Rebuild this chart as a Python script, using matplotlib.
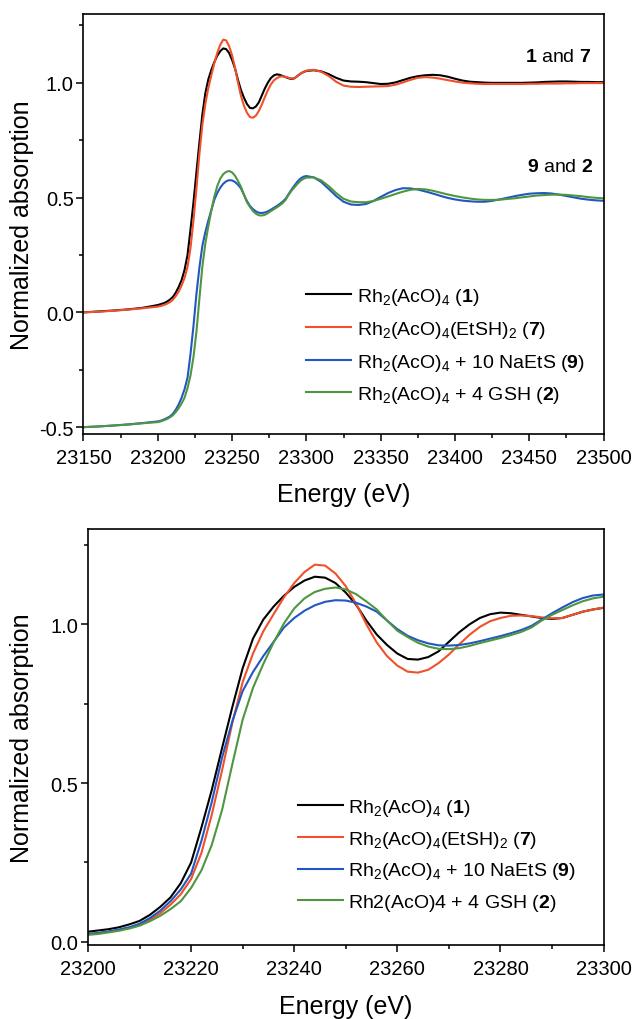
import numpy as np
import matplotlib
matplotlib.use("Agg")
import matplotlib.pyplot as plt
from matplotlib.ticker import MultipleLocator

plt.rcParams['font.family'] = ['Liberation Sans', 'DejaVu Sans']
plt.rcParams['mathtext.fontset'] = 'custom'
plt.rcParams['mathtext.rm'] = 'Liberation Sans'
plt.rcParams['mathtext.it'] = 'Liberation Sans:italic'
plt.rcParams['mathtext.bf'] = 'Liberation Sans:bold'
plt.rcParams['axes.unicode_minus'] = False

# ---------------- data ----------------
energy = np.concatenate([
    [23150, 23160, 23170, 23180, 23190],
    np.arange(23200, 23301, 2),
    np.arange(23305, 23501, 5),
]).astype(float)

mu_1 = [0.000, 0.004, 0.008, 0.013, 0.020,
        0.032, 0.036, 0.040, 0.046, 0.055, 0.066, 0.085, 0.110, 0.140, 0.185,
        0.250, 0.360, 0.478, 0.610, 0.740, 0.862, 0.955, 1.015, 1.056, 1.090,
        1.118, 1.138, 1.150, 1.147, 1.130, 1.100, 1.062, 1.012, 0.968, 0.935,
        0.908, 0.891, 0.889, 0.897, 0.915, 0.945, 0.975, 1.000, 1.020, 1.032,
        1.037, 1.035, 1.030, 1.025, 1.020, 1.017, 1.020, 1.030, 1.040, 1.047,
        1.052,
        1.055, 1.050, 1.038, 1.022, 1.010, 1.006, 1.005, 1.003, 0.999, 0.995,
        0.996, 1.002, 1.012, 1.022, 1.029, 1.033, 1.035, 1.033, 1.027, 1.018,
        1.010, 1.005, 1.003, 1.001, 1.000, 1.000, 1.000, 1.000, 1.000, 1.001,
        1.002, 1.004, 1.005, 1.006, 1.006, 1.005, 1.004, 1.004, 1.003, 1.003]

mu_7 = [0.000, 0.003, 0.007, 0.012, 0.018,
        0.025, 0.028, 0.032, 0.037, 0.044, 0.054, 0.070, 0.090, 0.117, 0.150,
        0.198, 0.280, 0.400, 0.540, 0.690, 0.818, 0.908, 0.978, 1.032, 1.085,
        1.130, 1.165, 1.188, 1.185, 1.160, 1.120, 1.065, 1.000, 0.943, 0.900,
        0.870, 0.851, 0.848, 0.857, 0.878, 0.905, 0.937, 0.967, 0.992, 1.010,
        1.020, 1.027, 1.028, 1.026, 1.022, 1.019, 1.020, 1.030, 1.040, 1.047,
        1.053,
        1.057, 1.048, 1.030, 1.005, 0.988, 0.983, 0.982, 0.983, 0.984, 0.985,
        0.986, 0.992, 1.002, 1.013, 1.022, 1.025, 1.023, 1.018, 1.012, 1.006,
        1.001, 0.998, 0.996, 0.995, 0.995, 0.995, 0.995, 0.995, 0.995, 0.996,
        0.996, 0.997, 0.997, 0.997, 0.998, 0.998, 0.999, 0.999, 0.999, 0.999]

mu_9 = [0.000, 0.003, 0.007, 0.012, 0.018,
        0.025, 0.028, 0.033, 0.039, 0.046, 0.057, 0.075, 0.098, 0.128, 0.165,
        0.215, 0.318, 0.440, 0.580, 0.695, 0.790, 0.850, 0.900, 0.945, 0.990,
        1.020, 1.043, 1.060, 1.071, 1.076, 1.075, 1.068, 1.056, 1.040, 1.012,
        0.985, 0.964, 0.950, 0.940, 0.934, 0.933, 0.935, 0.940, 0.947, 0.955,
        0.963, 0.972, 0.982, 0.995, 1.015, 1.035, 1.053, 1.070, 1.083, 1.091,
        1.094,
        1.088, 1.068, 1.038, 1.007, 0.982, 0.970, 0.968, 0.972, 0.985, 1.003,
        1.020, 1.033, 1.041, 1.040, 1.035, 1.027, 1.018, 1.008, 0.999, 0.992,
        0.987, 0.984, 0.982, 0.982, 0.986, 0.992, 0.999, 1.006, 1.012, 1.017,
        1.019, 1.020, 1.018, 1.013, 1.007, 1.001, 0.995, 0.991, 0.988, 0.986]

mu_2 = [0.000, 0.003, 0.007, 0.011, 0.017,
        0.022, 0.025, 0.030, 0.035, 0.042, 0.051, 0.065, 0.082, 0.103, 0.128,
        0.170, 0.225, 0.305, 0.415, 0.560, 0.700, 0.800, 0.875, 0.943, 1.003,
        1.050, 1.082, 1.102, 1.112, 1.116, 1.110, 1.095, 1.072, 1.047, 1.012,
        0.980, 0.960, 0.942, 0.930, 0.923, 0.922, 0.925, 0.932, 0.941, 0.949,
        0.957, 0.966, 0.976, 0.990, 1.012, 1.030, 1.045, 1.060, 1.073, 1.082,
        1.087,
        1.088, 1.075, 1.050, 1.020, 0.995, 0.983, 0.980, 0.980, 0.985, 0.995,
        1.005, 1.016, 1.026, 1.034, 1.038, 1.036, 1.030, 1.022, 1.014, 1.007,
        1.001, 0.996, 0.992, 0.990, 0.990, 0.991, 0.994, 0.997, 1.001, 1.005,
        1.009, 1.011, 1.013, 1.013, 1.012, 1.009, 1.006, 1.002, 0.999, 0.997]

offset_92 = -0.5

labels_top = [r'Rh$_2$(AcO)$_4$ ($\mathbf{1}$)',
              r'Rh$_2$(AcO)$_4$(EtSH)$_2$ ($\mathbf{7}$)',
              r'Rh$_2$(AcO)$_4$ + 10 NaEtS ($\mathbf{9}$)',
              r'Rh$_2$(AcO)$_4$ + 4 GSH ($\mathbf{2}$)']
labels_bottom = [r'Rh$_2$(AcO)$_4$ ($\mathbf{1}$)',
                 r'Rh$_2$(AcO)$_4$(EtSH)$_2$ ($\mathbf{7}$)',
                 r'Rh$_2$(AcO)$_4$ + 10 NaEtS ($\mathbf{9}$)',
                 r'Rh2(AcO)4 + 4 GSH ($\mathbf{2}$)']

colors = ['#000000', '#F0502A', '#2257C2', '#4E963F']

for arr in (mu_1, mu_7, mu_9, mu_2):
    assert len(arr) == len(energy)

mu_1 = np.array(mu_1); mu_7 = np.array(mu_7)
mu_9 = np.array(mu_9); mu_2 = np.array(mu_2)

# ---------------- figure ----------------
fig = plt.figure(figsize=(6.34, 10.2), dpi=100)
ax1 = fig.add_axes([0.1317, 0.5735, 0.8203, 0.4118])
ax2 = fig.add_axes([0.1388, 0.0725, 0.8132, 0.4078])

lw = 1.5
FS_TICK = 14.5
FS_LEG = 14
FS_LAB = 18


def style(ax, xmaj, xmin, ymaj, ymin):
    ax.xaxis.set_major_locator(MultipleLocator(xmaj))
    ax.xaxis.set_minor_locator(MultipleLocator(xmin))
    ax.yaxis.set_major_locator(MultipleLocator(ymaj))
    ax.yaxis.set_minor_locator(MultipleLocator(ymin))
    ax.tick_params(which='both', direction='out', top=False, right=False,
                   width=1.1, labelsize=FS_TICK)
    ax.tick_params(which='major', length=5)
    ax.tick_params(which='minor', length=3)
    ax.tick_params(axis='x', which='major', pad=5)
    ax.tick_params(axis='y', which='major', pad=2)
    for s in ax.spines.values():
        s.set_linewidth(1.2)
    ax.yaxis.set_major_formatter(matplotlib.ticker.FormatStrFormatter('%.1f'))
    ax.set_xlabel('Energy (eV)', fontsize=FS_LAB)
    ax.set_ylabel('Normalized absorption', fontsize=FS_LAB)


# top panel
ax1.plot(energy, mu_1, color=colors[0], lw=lw, label=labels_top[0])
ax1.plot(energy, mu_7, color=colors[1], lw=lw, label=labels_top[1])
ax1.plot(energy, mu_9 + offset_92, color=colors[2], lw=lw, label=labels_top[2])
ax1.plot(energy, mu_2 + offset_92, color=colors[3], lw=lw, label=labels_top[3])
ax1.set_xlim(23150, 23500)
ax1.set_ylim(-0.53, 1.30)
style(ax1, 50, 25, 0.5, 0.25)
ax1.xaxis.set_label_coords(0.5, -0.114)
ax1.yaxis.set_label_coords(-0.095, 0.5)
ax1.text(0.976, 0.898, r'$\mathbf{1}$ and $\mathbf{7}$', transform=ax1.transAxes,
         ha='right', va='center', fontsize=FS_LEG)
ax1.text(0.980, 0.636, r'$\mathbf{9}$ and $\mathbf{2}$', transform=ax1.transAxes,
         ha='right', va='center', fontsize=FS_LEG)
ax1.legend(loc='upper left', bbox_to_anchor=(0.428, 0.352), frameon=False,
           fontsize=FS_LEG, handlelength=2.3, handletextpad=0.3,
           labelspacing=0.6, borderpad=0, borderaxespad=0)

# bottom panel
ax2.plot(energy, mu_1, color=colors[0], lw=lw, label=labels_bottom[0])
ax2.plot(energy, mu_7, color=colors[1], lw=lw, label=labels_bottom[1])
ax2.plot(energy, mu_9, color=colors[2], lw=lw, label=labels_bottom[2])
ax2.plot(energy, mu_2, color=colors[3], lw=lw, label=labels_bottom[3])
ax2.set_xlim(23200, 23300)
ax2.set_ylim(-0.01, 1.30)
style(ax2, 20, 10, 0.5, 0.25)
ax2.xaxis.set_label_coords(0.5, -0.118)
ax2.yaxis.set_label_coords(-0.105, 0.5)
ax2.legend(loc='upper left', bbox_to_anchor=(0.407, 0.356), frameon=False,
           fontsize=FS_LEG, handlelength=2.3, handletextpad=0.3,
           labelspacing=0.55, borderpad=0, borderaxespad=0)

fig.savefig('out.png', dpi=100)
